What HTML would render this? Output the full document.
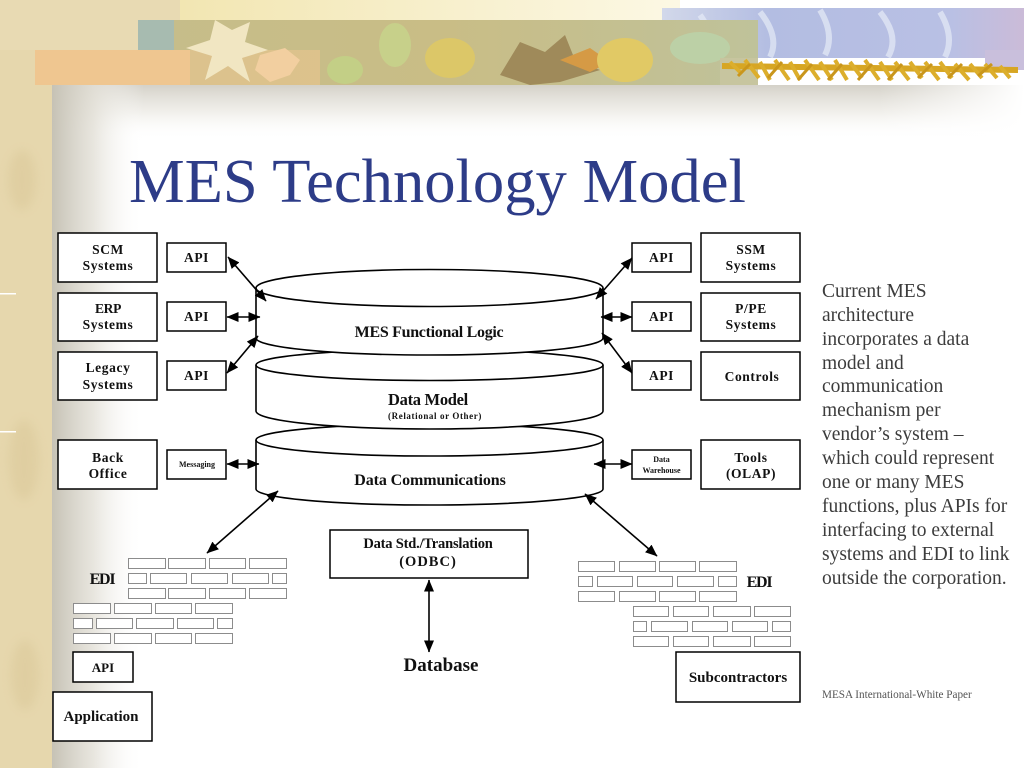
<!DOCTYPE html>
<html>
<head>
<meta charset="utf-8">
<style>
  html,body{margin:0;padding:0;background:#fff;}
  body{width:1024px;height:768px;overflow:hidden;}
  svg{display:block;}
  .b{font-family:"Liberation Serif",serif;font-weight:bold;fill:#111;}
  .p{font-family:"Liberation Serif",serif;font-size:19.5px;fill:#3c3c3c;font-weight:normal;}
</style>
</head>
<body>
<svg width="1024" height="768" viewBox="0 0 1024 768" xmlns="http://www.w3.org/2000/svg">
  <defs>
    <linearGradient id="lg" x1="0" y1="0" x2="1" y2="0">
      <stop offset="0" stop-color="#c6c2b5" stop-opacity="1"/>
      <stop offset="0.45" stop-color="#e2dfd6" stop-opacity="0.8"/>
      <stop offset="1" stop-color="#ffffff" stop-opacity="0"/>
    </linearGradient>
    <linearGradient id="sg" x1="0" y1="0" x2="0" y2="1">
      <stop offset="0" stop-color="#d4d1c8" stop-opacity="1"/>
      <stop offset="0.5" stop-color="#ebe9e3" stop-opacity="0.7"/>
      <stop offset="1" stop-color="#ffffff" stop-opacity="0"/>
    </linearGradient>
    <linearGradient id="sgx" x1="0" y1="0" x2="1" y2="0">
      <stop offset="0" stop-color="#ffffff" stop-opacity="0"/>
      <stop offset="0.85" stop-color="#ffffff" stop-opacity="0"/>
      <stop offset="1" stop-color="#ffffff" stop-opacity="1"/>
    </linearGradient>
    <linearGradient id="yl" x1="0" y1="0" x2="1" y2="0">
      <stop offset="0" stop-color="#f2e6b2"/>
      <stop offset="1" stop-color="#fcf8e4"/>
    </linearGradient>
    <linearGradient id="bl" x1="0" y1="0" x2="1" y2="0">
      <stop offset="0" stop-color="#d2d8ea"/>
      <stop offset="0.3" stop-color="#b3bde2"/>
      <stop offset="0.8" stop-color="#b9c0e4"/>
      <stop offset="1" stop-color="#cbbbd8"/>
    </linearGradient>
    <linearGradient id="lb" x1="0" y1="0" x2="1" y2="0">
      <stop offset="0" stop-color="#c6bd8a"/>
      <stop offset="0.5" stop-color="#c9bd86"/>
      <stop offset="1" stop-color="#bfc29a"/>
    </linearGradient>
    <filter id="blur" x="-50%" y="-50%" width="200%" height="200%"><feGaussianBlur stdDeviation="5"/></filter>
    <marker id="ah" viewBox="0 0 12 10" refX="11.5" refY="5" markerWidth="12" markerHeight="10" markerUnits="userSpaceOnUse" orient="auto-start-reverse">
      <path d="M0,0 L12,5 L0,10 z" fill="#000"/>
    </marker>
  </defs>

  <rect x="0" y="0" width="1024" height="768" fill="#ffffff"/>

  <!-- shadow under banner -->
  <rect x="52" y="85" width="972" height="55" fill="url(#sg)"/>
  <rect x="52" y="85" width="972" height="55" fill="url(#sgx)"/>
  <!-- left grey gradient -->
  <rect x="52" y="85" width="92" height="683" fill="url(#lg)"/>

  <!-- parchment -->
  <rect x="0" y="0" width="52" height="768" fill="#e6d7ad"/>
  <rect x="0" y="0" width="182" height="52" fill="#e8dab3"/>
  <rect x="0" y="50" width="36" height="36" fill="#e6d7ad"/>
  <g filter="url(#blur)" opacity="0.45">
    <ellipse cx="22" cy="180" rx="14" ry="30" fill="#d8c594"/>
    <ellipse cx="24" cy="460" rx="15" ry="40" fill="#d8c594"/>
    <ellipse cx="25" cy="675" rx="14" ry="35" fill="#d8c594"/>
  </g>
  <rect x="0" y="293" width="16" height="1.5" fill="#fff"/>
  <rect x="0" y="431" width="16" height="1.5" fill="#fff"/>

  <!-- yellow band -->
  <rect x="180" y="0" width="500" height="22" fill="url(#yl)"/>
  <!-- blue band -->
  <rect x="662" y="8" width="362" height="50" fill="url(#bl)"/>
  <rect x="985" y="50" width="39" height="20" fill="#c9bfdc"/>
  <path d="M700,15 q15,20 5,40 M760,12 q20,25 10,45 M820,10 q15,25 5,45 M880,12 q20,25 8,45 M940,12 q15,25 5,45" stroke="#e6ebf7" stroke-width="6" fill="none" opacity="0.7"/>
  <!-- leaf band -->
  <rect x="138" y="20" width="620" height="65" fill="url(#lb)"/>
  <rect x="138" y="20" width="36" height="65" fill="#a7bbb0"/>
  <!-- orange band -->
  <rect x="35" y="50" width="155" height="35" fill="#efc690"/>
  <polygon points="190,50 320,50 320,85 190,85" fill="#e6c48f" opacity="0.7"/>
  <!-- pale star leaf -->
  <polygon points="215,20 232,30 250,22 245,42 268,50 242,58 250,82 228,66 205,80 212,56 186,48 210,40" fill="#f1e6c2"/>
  <polygon points="260,55 285,48 300,60 290,75 270,82 255,70" fill="#f2cfa0"/>
  <!-- misc leaves -->
  <ellipse cx="345" cy="70" rx="18" ry="14" fill="#c3cf86"/>
  <ellipse cx="395" cy="45" rx="16" ry="22" fill="#c7d08a"/>
  <ellipse cx="450" cy="58" rx="25" ry="20" fill="#dcc768"/>
  <polygon points="500,75 520,42 545,52 565,35 575,60 600,70 560,82 530,85" fill="#9f8a5a"/>
  <polygon points="560,60 590,48 610,62 590,72" fill="#d59a45"/>
  <ellipse cx="625" cy="60" rx="28" ry="22" fill="#e1c965"/>
  <ellipse cx="700" cy="48" rx="30" ry="16" fill="#bcd0a6"/>
  <rect x="720" y="58" width="38" height="27" fill="#c7c59f"/>
  <!-- pine branch -->
  <path d="M722,66 L1018,70" stroke="#d7a623" stroke-width="6" fill="none"/>
  <path d="M730,62 l12,12 M745,60 l14,18 M760,62 l10,18 M775,60 l14,20 M790,62 l10,18 M805,60 l14,20 M820,62 l12,18 M835,60 l12,20 M850,62 l12,16 M865,60 l14,20 M880,62 l12,18 M895,62 l14,18 M910,62 l12,16 M925,62 l14,18 M940,62 l12,16 M955,64 l14,16 M970,64 l12,14 M985,64 l12,14 M1000,66 l10,12" stroke="#dcae2c" stroke-width="4" fill="none"/>
  <path d="M738,76 l12,-12 M768,78 l14,-16 M798,80 l14,-16 M828,80 l14,-16 M858,80 l14,-16 M888,80 l14,-16 M918,78 l14,-14 M948,78 l14,-14 M978,76 l14,-12" stroke="#c9961c" stroke-width="3" fill="none"/>

  <!-- Title -->
  <text x="129" y="202" style="font-family:'Liberation Serif',serif;font-size:62.6px;fill:#2d3c88;">MES Technology Model</text>

  <!-- Cylinders (bottom first) -->
  <g stroke="#000" stroke-width="1.6" fill="#fff">
    <path d="M256,440 A173.5,16 0 0 1 603,440 V489 A173.5,16 0 0 1 256,489 Z"/>
    <path d="M256,440 A173.5,16 0 0 0 603,440" fill="none"/>
    <path d="M256,365 A173.5,15.5 0 0 1 603,365 V411 A173.5,18 0 0 1 256,411 Z"/>
    <path d="M256,365 A173.5,15.5 0 0 0 603,365" fill="none"/>
    <path d="M256,288 A173.5,18.5 0 0 1 603,288 V338 A173.5,17 0 0 1 256,338 Z"/>
    <path d="M256,288 A173.5,18.5 0 0 0 603,288" fill="none"/>
  </g>
  <text class="b" x="429" y="337" font-size="16" text-anchor="middle" letter-spacing="-0.3">MES Functional Logic</text>
  <text class="b" x="428" y="405" font-size="16.5" text-anchor="middle" letter-spacing="-0.3">Data Model</text>
  <text class="b" x="435" y="419" font-size="9" text-anchor="middle" letter-spacing="0.6">(Relational or Other)</text>
  <text class="b" x="430" y="485" font-size="16" text-anchor="middle" letter-spacing="-0.1">Data Communications</text>

  <!-- Boxes -->
  <g stroke="#000" stroke-width="1.5" fill="#fff">
    <rect x="58" y="233" width="99" height="49"/>
    <rect x="58" y="293" width="99" height="48"/>
    <rect x="58" y="352" width="99" height="48"/>
    <rect x="58" y="440" width="99" height="49"/>
    <rect x="167" y="243" width="59" height="29"/>
    <rect x="167" y="302" width="59" height="29"/>
    <rect x="167" y="361" width="59" height="29"/>
    <rect x="167" y="450" width="59" height="29"/>
    <rect x="632" y="243" width="59" height="29"/>
    <rect x="632" y="302" width="59" height="29"/>
    <rect x="632" y="361" width="59" height="29"/>
    <rect x="632" y="450" width="59" height="29"/>
    <rect x="701" y="233" width="99" height="49"/>
    <rect x="701" y="293" width="99" height="48"/>
    <rect x="701" y="352" width="99" height="48"/>
    <rect x="701" y="440" width="99" height="49"/>
    <rect x="330" y="530" width="198" height="48"/>
    <rect x="73" y="652" width="60" height="30"/>
    <rect x="53" y="692" width="99" height="49"/>
    <rect x="676" y="652" width="124" height="50"/>
  </g>

  <!-- Box texts -->
  <g class="b" font-size="13.5" text-anchor="middle" letter-spacing="0.6">
    <text x="108" y="254" class="b">SCM</text>
    <text x="108" y="270" class="b">Systems</text>
    <text x="108" y="313" class="b" letter-spacing="-0.3">ERP</text>
    <text x="108" y="329" class="b">Systems</text>
    <text x="108" y="372" class="b">Legacy</text>
    <text x="108" y="389" class="b">Systems</text>
    <text x="108" y="462" class="b">Back</text>
    <text x="108" y="478" class="b">Office</text>
    <text x="196.5" y="262" class="b">API</text>
    <text x="196.5" y="321" class="b">API</text>
    <text x="196.5" y="380" class="b">API</text>
    <text x="661.5" y="262" class="b">API</text>
    <text x="661.5" y="321" class="b">API</text>
    <text x="661.5" y="380" class="b">API</text>
    <text x="751" y="254" class="b">SSM</text>
    <text x="751" y="270" class="b">Systems</text>
    <text x="751" y="313" class="b">P/PE</text>
    <text x="751" y="329" class="b">Systems</text>
    <text x="752" y="381" class="b">Controls</text>
    <text x="751" y="462" class="b">Tools</text>
    <text x="751" y="478" class="b">(OLAP)</text>
  </g>
  <text class="b" x="197" y="467" font-size="8" text-anchor="middle">Messaging</text>
  <text class="b" x="661.5" y="462" font-size="8" text-anchor="middle">Data</text>
  <text class="b" x="661.5" y="473" font-size="8" text-anchor="middle">Warehouse</text>
  <text class="b" x="428" y="548" font-size="14.5" text-anchor="middle" letter-spacing="-0.2">Data Std./Translation</text>
  <text class="b" x="428" y="566" font-size="14.5" text-anchor="middle" letter-spacing="1">(ODBC)</text>
  <text class="b" x="441" y="671" font-size="19" text-anchor="middle">Database</text>
  <text class="b" x="103" y="672" font-size="13" text-anchor="middle">API</text>
  <text class="b" x="101" y="721" font-size="15" text-anchor="middle">Application</text>
  <text class="b" x="738" y="682" font-size="15" text-anchor="middle">Subcontractors</text>
  <text class="b" x="102" y="584" font-size="16" text-anchor="middle" letter-spacing="-1.2">EDI</text>
  <text class="b" x="759" y="587" font-size="16" text-anchor="middle" letter-spacing="-1.2">EDI</text>

  <!-- Arrows -->
  <g stroke="#000" stroke-width="1.6" fill="none" marker-start="url(#ah)" marker-end="url(#ah)">
    <line x1="228" y1="257" x2="266" y2="301"/>
    <line x1="227" y1="317" x2="260" y2="317"/>
    <line x1="227" y1="373" x2="258" y2="336"/>
    <line x1="227" y1="464" x2="259" y2="464"/>
    <line x1="632" y1="258" x2="596" y2="299"/>
    <line x1="601" y1="317" x2="632" y2="317"/>
    <line x1="602" y1="333" x2="632" y2="373"/>
    <line x1="594" y1="464" x2="632" y2="464"/>
    <line x1="278" y1="491" x2="207" y2="553"/>
    <line x1="585" y1="494" x2="657" y2="556"/>
    <line x1="429" y1="580" x2="429" y2="652"/>
  </g>

  <!-- Brick walls -->
  <g stroke="#8c8c8c" stroke-width="1" fill="#fff">
    <rect x="128.5" y="558.5" width="37" height="10"/><rect x="168.5" y="558.5" width="37" height="10"/><rect x="209.5" y="558.5" width="36" height="10"/><rect x="249.5" y="558.5" width="37" height="10"/>
    <rect x="128.5" y="573.5" width="18" height="10"/><rect x="150.5" y="573.5" width="36" height="10"/><rect x="191.5" y="573.5" width="36" height="10"/><rect x="232.5" y="573.5" width="36" height="10"/><rect x="272.5" y="573.5" width="14" height="10"/>
    <rect x="128.5" y="588.5" width="37" height="10"/><rect x="168.5" y="588.5" width="37" height="10"/><rect x="209.5" y="588.5" width="36" height="10"/><rect x="249.5" y="588.5" width="37" height="10"/>
    <rect x="73.5" y="603.5" width="37" height="10"/><rect x="114.5" y="603.5" width="37" height="10"/><rect x="155.5" y="603.5" width="36" height="10"/><rect x="195.5" y="603.5" width="37" height="10"/>
    <rect x="73.5" y="618.5" width="19" height="10"/><rect x="96.5" y="618.5" width="36" height="10"/><rect x="136.5" y="618.5" width="37" height="10"/><rect x="177.5" y="618.5" width="36" height="10"/><rect x="217.5" y="618.5" width="15" height="10"/>
    <rect x="73.5" y="633.5" width="37" height="10"/><rect x="114.5" y="633.5" width="37" height="10"/><rect x="155.5" y="633.5" width="36" height="10"/><rect x="195.5" y="633.5" width="37" height="10"/>
    <rect x="578.5" y="561.5" width="36" height="10"/><rect x="619.5" y="561.5" width="36" height="10"/><rect x="659.5" y="561.5" width="36" height="10"/><rect x="699.5" y="561.5" width="37" height="10"/>
    <rect x="578.5" y="576.5" width="14" height="10"/><rect x="597.5" y="576.5" width="35" height="10"/><rect x="637.5" y="576.5" width="35" height="10"/><rect x="677.5" y="576.5" width="36" height="10"/><rect x="718.5" y="576.5" width="18" height="10"/>
    <rect x="578.5" y="591.5" width="36" height="10"/><rect x="619.5" y="591.5" width="36" height="10"/><rect x="659.5" y="591.5" width="36" height="10"/><rect x="699.5" y="591.5" width="37" height="10"/>
    <rect x="633.5" y="606.5" width="35" height="10"/><rect x="673.5" y="606.5" width="35" height="10"/><rect x="713.5" y="606.5" width="37" height="10"/><rect x="754.5" y="606.5" width="36" height="10"/>
    <rect x="633.5" y="621.5" width="13" height="10"/><rect x="651.5" y="621.5" width="36" height="10"/><rect x="692.5" y="621.5" width="35" height="10"/><rect x="732.5" y="621.5" width="35" height="10"/><rect x="772.5" y="621.5" width="18" height="10"/>
    <rect x="633.5" y="636.5" width="35" height="10"/><rect x="673.5" y="636.5" width="35" height="10"/><rect x="713.5" y="636.5" width="37" height="10"/><rect x="754.5" y="636.5" width="36" height="10"/>
  </g>

  <!-- Right paragraph -->
  <text class="p" x="822" y="297">Current MES</text>
  <text class="p" x="822" y="321">architecture</text>
  <text class="p" x="822" y="345">incorporates a data</text>
  <text class="p" x="822" y="369">model and</text>
  <text class="p" x="822" y="392">communication</text>
  <text class="p" x="822" y="416">mechanism per</text>
  <text class="p" x="822" y="440">vendor’s system –</text>
  <text class="p" x="822" y="464">which could represent</text>
  <text class="p" x="822" y="488">one or many MES</text>
  <text class="p" x="822" y="512">functions, plus APIs for</text>
  <text class="p" x="822" y="536">interfacing to external</text>
  <text class="p" x="822" y="560">systems and EDI to link</text>
  <text class="p" x="822" y="584">outside the corporation.</text>
  <text x="822" y="698" style="font-family:'Liberation Serif',serif;font-size:11.2px;fill:#555;">MESA International-White Paper</text>
</svg>
</body>
</html>
